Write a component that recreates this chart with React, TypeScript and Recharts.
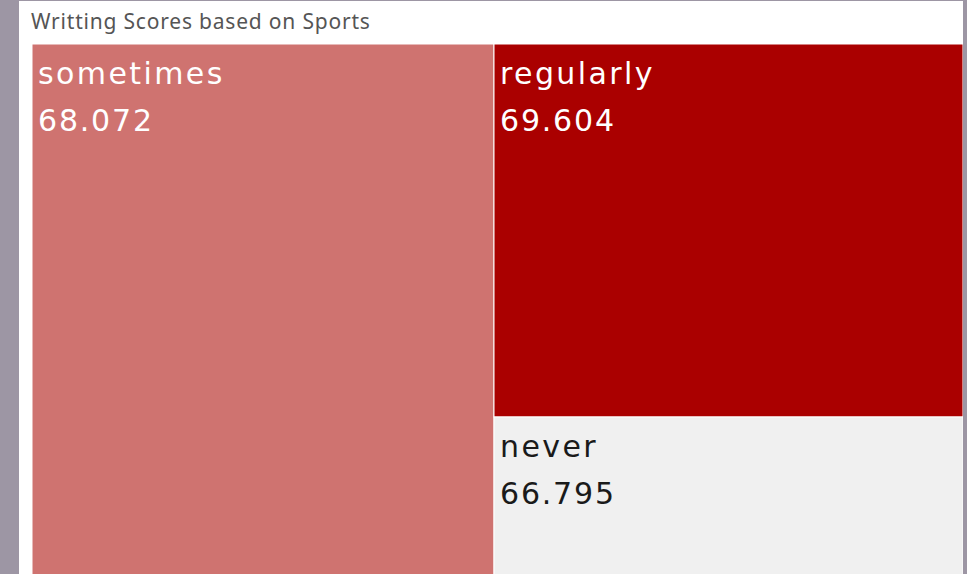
import React from "react";
import { Treemap } from "recharts";

// sports frequency groups, estimated count of students (tile size) and avg writing score
const sportGroups = ["sometimes", "regularly", "never"];
const studentCounts = [496, 354, 150];
const writingScores = [68.072, 69.604, 66.795];

const tileColors: Record<string, string> = {
  sometimes: "#CF7370",
  regularly: "#AA0000",
  never: "#F0F0F0",
};

const textColors: Record<string, string> = {
  sometimes: "#FFFFFF",
  regularly: "#FFFFFF",
  never: "#1A1A1A",
};

const data = sportGroups.map((name, i) => ({
  name,
  size: studentCounts[i],
  score: writingScores[i],
}));

const labelFont = "'DejaVu Sans', sans-serif";

function Tile(props: any) {
  const { x, y, width, height, depth, name, score } = props;
  if (depth !== 1) return null;
  const textProps = {
    fill: textColors[name],
    stroke: "none",
    fontFamily: labelFont,
    fontSize: 30,
    fontWeight: 400,
  };
  return (
    <g>
      <rect
        x={x}
        y={y}
        width={width}
        height={height}
        fill={tileColors[name]}
        stroke="#FFFFFF"
        strokeWidth={1}
      />
      <text x={x + 6} y={y + 40} letterSpacing={2.4} {...textProps}>
        {name}
      </text>
      <text x={x + 6} y={y + 87} letterSpacing={1.8} {...textProps}>
        {score.toFixed(3)}
      </text>
    </g>
  );
}

export default function App() {
  return (
    <div
      style={{
        position: "absolute",
        left: 0,
        top: 0,
        width: 967,
        height: 574,
        background: "#9D96A4",
        overflow: "hidden",
      }}
    >
      <div
        style={{
          position: "absolute",
          left: 19,
          top: 1,
          width: 944,
          height: 573,
          background: "#FFFFFF",
        }}
      >
        <div
          style={{
            position: "absolute",
            left: 12,
            top: 6,
            fontFamily: "'Noto Sans', sans-serif",
            fontSize: 21,
            letterSpacing: 0.8,
            color: "#555555",
            whiteSpace: "nowrap",
          }}
        >
          Writting Scores based on Sports
        </div>
        <div style={{ position: "absolute", left: 13, top: 43 }}>
          <Treemap
            width={931}
            height={531}
            data={data}
            dataKey="size"
            nameKey="name"
            type="flat"
            stroke="#FFFFFF"
            content={<Tile />}
            isAnimationActive={false}
          />
        </div>
      </div>
    </div>
  );
}
